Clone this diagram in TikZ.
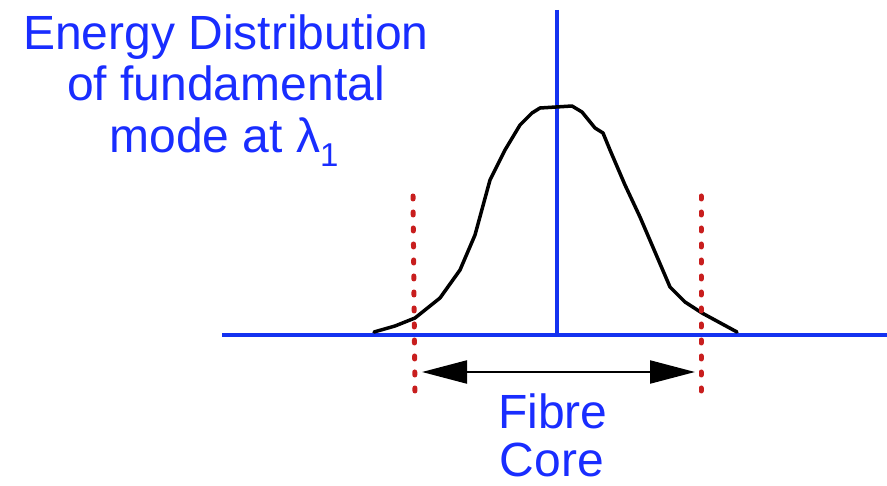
\documentclass[tikz,border=0pt]{standalone}
\usepackage{fontspec}
\setmainfont{Liberation Sans}
\usetikzlibrary{arrows.meta}
\definecolor{txtblue}{RGB}{25,45,255}
\definecolor{axblue}{RGB}{20,50,240}
\definecolor{dotred}{RGB}{200,30,30}
\begin{document}
\begin{tikzpicture}[x=1pt,y=-1pt,
  lbl/.style={text=txtblue,font=\fontsize{48}{52}\selectfont,inner sep=0pt,anchor=base},
  axis/.style={draw=axblue,line width=3.5pt},
  coreline/.style={draw=dotred,line width=5pt,line cap=round,dash pattern=on 3pt off 13pt},
  curve/.style={draw=black,line width=3.5pt,line join=round,line cap=round},
  dim/.style={draw=black,line width=2.2pt,{Triangle[length=45pt,width=23pt]}-{Triangle[length=45pt,width=23pt]}}]
\useasboundingbox (0,0) rectangle (887,486);
% axes
\coordinate (xl) at (222,335);
\coordinate (xr) at (887,335);
\coordinate (yt) at (557,10);
\coordinate (yb) at (557,335);
\draw[axis] (xl) -- (xr);
\draw[axis] (yt) -- (yb);
% curve
\draw[curve] (374,332) -- (395,326) -- (415,318) -- (440,298) -- (460,270) -- (475,235)
  -- (490,180) -- (505,150) -- (520,125) -- (532,113) -- (540,108) -- (572,106)
  -- (582,112) -- (595,128) -- (603,133) -- (610,150) -- (625,185) -- (640,217)
  -- (655,252) -- (670,287) -- (685,302) -- (702,313) -- (737,332);
% core boundaries
\coordinate (lt) at (413,196);
\coordinate (lb) at (415,396);
\coordinate (rt) at (701,196);
\coordinate (rb) at (701,396);
\draw[coreline] (lt) -- (lb);
\draw[coreline] (rt) -- (rb);
% dimension arrow
\coordinate (al) at (422,372);
\coordinate (ar) at (695,372);
\draw[dim] (al) -- (ar);
% labels
\node[lbl] (t1) at (226,50) {Energy Distribution};
\node[lbl] (t2) at (226,101) {of fundamental};
\node[lbl] (t3) at (224,153) {mode at λ\raisebox{-14pt}{\fontsize{33}{33}\selectfont 1}};
\node[lbl] (f1) at (553,429) {Fibre};
\node[lbl] (f2) at (552,476) {Core};
\end{tikzpicture}
\end{document}
